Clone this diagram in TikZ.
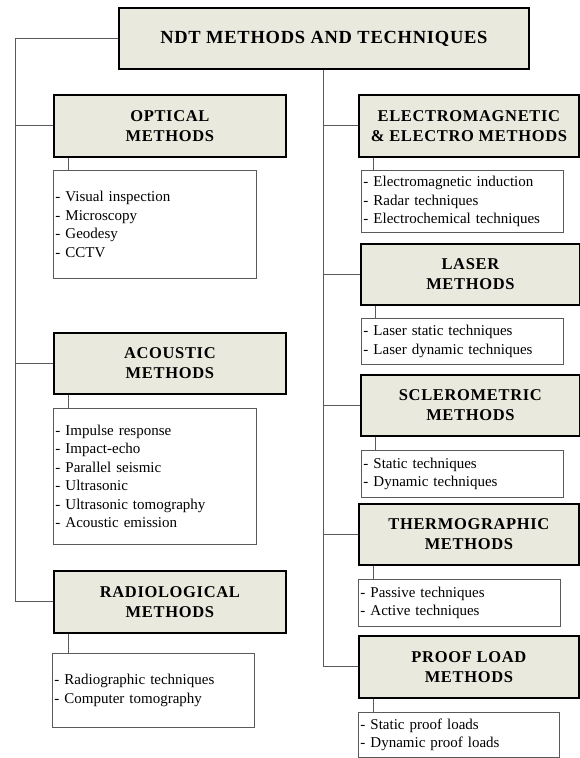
\documentclass[tikz,border=0pt]{standalone}
\usepackage{fontspec}
\setmainfont{Liberation Serif}
\newfontfamily\headfont[LetterSpace=4]{Liberation Serif}
\usetikzlibrary{positioning}
\definecolor{boxfill}{RGB}{233,233,221}
\definecolor{linegray}{RGB}{90,90,90}
\tikzset{
    head/.style={draw=black, line width=1.8pt, fill=boxfill, align=center,
        anchor=north west, inner sep=0pt,
        font=\headfont\fontsize{16.5}{20}\selectfont\bfseries},
    listbox/.style={draw=linegray, line width=0.9pt, fill=white, align=left,
        anchor=north west, inner xsep=2pt, inner ysep=0pt,
        font=\fontsize{15}{18.4}\selectfont},
    link/.style={draw=linegray, line width=0.9pt}
}

\begin{document}
\begin{tikzpicture}[x=1pt,y=-1pt]
    \useasboundingbox (0,0) rectangle (580,758);
    % top box
    \node[head, minimum width=410pt, minimum height=61pt,
        font=\headfont\fontsize{18.5}{22}\selectfont\bfseries] (ndt) at (118,7) {NDT METHODS AND TECHNIQUES};
    % left column
    \node[head, minimum width=232pt, minimum height=62pt] (optical) at (53,94) {OPTICAL\\METHODS};
    \node[listbox, text width=199pt, minimum height=108pt] (optlist) at (53,170)
        {- Visual inspection\\- Microscopy\\- Geodesy\\- CCTV};
    \node[head, minimum width=232pt, minimum height=61pt] (acoustic) at (53,332) {ACOUSTIC\\METHODS};
    \node[listbox, text width=199pt, minimum height=136pt] (aclist) at (53,408)
        {- Impulse response\\- Impact-echo\\- Parallel seismic\\- Ultrasonic\\- Ultrasonic tomography\\- Acoustic emission};
    \node[head, minimum width=232pt, minimum height=62pt] (radio) at (53,570) {RADIOLOGICAL\\METHODS};
    \node[listbox, text width=198pt, minimum height=74pt] (radlist) at (52,653)
        {- Radiographic techniques\\- Computer tomography};
    % right column
    \node[head, minimum width=220pt, minimum height=62pt] (em) at (358,94) {ELECTROMAGNETIC\\\& ELECTRO METHODS};
    \node[listbox, text width=198pt, minimum height=62pt] (emlist) at (361,170)
        {- Electromagnetic induction\\- Radar techniques\\- Electrochemical techniques};
    \node[head, minimum width=219pt, minimum height=61pt] (laser) at (360,243) {LASER\\METHODS};
    \node[listbox, text width=198pt, minimum height=46pt] (laslist) at (361,318)
        {- Laser static techniques\\- Laser dynamic techniques};
    \node[head, minimum width=219pt, minimum height=61pt] (sclero) at (360,374) {SCLEROMETRIC\\METHODS};
    \node[listbox, text width=198pt, minimum height=47pt] (sclist) at (361,450)
        {- Static techniques\\- Dynamic techniques};
    \node[head, minimum width=220pt, minimum height=61pt] (thermo) at (358,503) {THERMOGRAPHIC\\METHODS};
    \node[listbox, text width=198pt, minimum height=47pt] (thlist) at (358,579)
        {- Passive techniques\\- Active techniques};
    \node[head, minimum width=220pt, minimum height=62pt] (proof) at (358,635) {PROOF LOAD\\METHODS};
    \node[listbox, text width=197pt, minimum height=45pt] (prlist) at (358,712)
        {- Static proof loads\\- Dynamic proof loads};
    % spines
    \coordinate (lspine) at (15,0);
    \draw[link] (ndt.west) -| (lspine |- radio.west) -- (radio.west);
    \foreach \n in {optical,acoustic}
        \draw[link] (lspine |- \n.west) -- (\n.west);
    \draw[link] (ndt.south) |- (proof.west);
    \foreach \n in {em,laser,sclero,thermo}
        \draw[link] (ndt.south |- \n.west) -- (\n.west);
    % head to list
    \foreach \a/\b in {optical/optlist,acoustic/aclist,radio/radlist,em/emlist,
        laser/laslist,sclero/sclist,thermo/thlist,proof/prlist}
        \draw[link] (\a.south west) ++(15pt,0) coordinate (s) -- (s |- \b.north);
\end{tikzpicture}
\end{document}
